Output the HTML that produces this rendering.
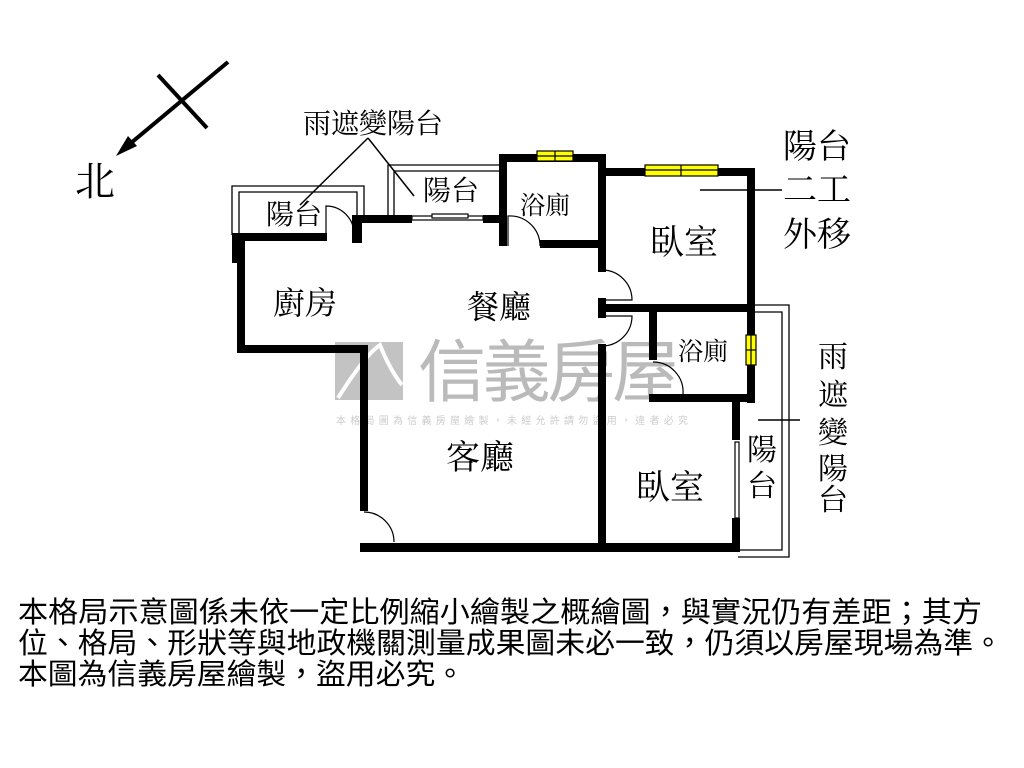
<!DOCTYPE html>
<html><head><meta charset="utf-8"><style>
html,body{margin:0;padding:0;background:#fff;}
svg{display:block}
text{font-family:"Liberation Serif","Noto Serif CJK SC","Noto Sans CJK TC",serif;fill:#000}
</style></head><body>
<svg width="1024" height="768" viewBox="0 0 1024 768" xmlns="http://www.w3.org/2000/svg">
<g opacity="0.5">
<rect x="335" y="342" width="68" height="58" fill="#888"/>
<path d="M338 398 Q365 355 380 345 Q390 370 402 385" stroke="#fff" stroke-width="4" fill="none"/>
<text x="418" y="396" font-size="68" style="fill:#777;font-family:'Noto Sans CJK TC',sans-serif" textLength="262">信義房屋</text>
<text x="336" y="424" font-size="10" style="fill:#999;font-family:'Noto Sans CJK TC',sans-serif" textLength="352">本格局圖為信義房屋繪製，未經允許請勿盜用，違者必究</text>
</g>
<line x1="228" y1="62" x2="125" y2="148" stroke="#000" stroke-width="4"/>
<polygon points="116,156 128,136 137,146" fill="#000"/>
<line x1="158" y1="75" x2="207" y2="128" stroke="#000" stroke-width="4"/>
<text x="75" y="195" font-size="40">北</text>
<g stroke="#000" stroke-width="1.3" fill="none">
<path d="M232 235 V186 H364 V218"/><path d="M239 235 V192 H357 V218"/>
<path d="M388 218 V165 H503"/><path d="M394 218 V171 H503"/>
<path d="M751 305 H789 V557 H738"/><path d="M751 312 H782 V550 H738"/>
</g>
<g stroke="#000" stroke-width="1.5">
<line x1="368" y1="138" x2="300" y2="205"/>
<line x1="368" y1="138" x2="414" y2="196"/>
<line x1="700" y1="190" x2="782" y2="190"/>
<line x1="758" y1="420" x2="800" y2="420"/>
</g>
<g fill="#000">
<rect x="232" y="233" width="12" height="30"/>
<rect x="237" y="233" width="8" height="118"/>
<rect x="237" y="233" width="90" height="8"/>
<rect x="352" y="215" width="10" height="28"/>
<rect x="352" y="215" width="60" height="8"/>
<rect x="483" y="215" width="22" height="8"/>
<rect x="499" y="154" width="8" height="92"/>
<rect x="499" y="154" width="107" height="8"/>
<rect x="598" y="154" width="8" height="118"/>
<rect x="540" y="240" width="66" height="8"/>
<rect x="598" y="168" width="157" height="8"/>
<rect x="747" y="168" width="8" height="235"/>
<rect x="598" y="298" width="8" height="20"/>
<rect x="598" y="304" width="157" height="8"/>
<rect x="649" y="304" width="8" height="56"/>
<rect x="649" y="394" width="106" height="8"/>
<rect x="732" y="394" width="8" height="46"/>
<rect x="732" y="518" width="8" height="34"/>
<rect x="598" y="344" width="8" height="208"/>
<rect x="237" y="345" width="131" height="8"/>
<rect x="360" y="345" width="8" height="166"/>
<rect x="360" y="543" width="380" height="9"/>
</g>
<g fill="#ff0" stroke="#000" stroke-width="1.2">
<rect x="537" y="151" width="36" height="10"/><line x1="555" y1="151" x2="555" y2="161"/><line x1="537" y1="156" x2="573" y2="156"/>
<rect x="645" y="165" width="73" height="11"/><line x1="681" y1="165" x2="681" y2="176"/><line x1="645" y1="170" x2="718" y2="170"/>
<rect x="746" y="335" width="10" height="30"/><line x1="751" y1="335" x2="751" y2="365"/><line x1="746" y1="350" x2="756" y2="350"/>
</g>
<g stroke="#000" stroke-width="1.2" fill="none">
<path d="M326 238 V206 A28 28 0 0 1 354 234"/>
<path d="M508 246 V216 A30 30 0 0 1 540 246"/>
<path d="M602 270 A30 30 0 0 1 632 300 H602"/>
<path d="M602 316 H632 A30 30 0 0 1 602 346"/>
<path d="M653 362 A30 30 0 0 1 683 394"/>
<path d="M364 512 A30 30 0 0 1 394 542"/>
<rect x="412" y="216" width="71" height="4" fill="#fff"/><rect x="432" y="214" width="36" height="4" fill="#fff"/>
<rect x="735" y="442" width="4" height="76"/>
</g>
<text x="303" y="133" font-size="28">雨遮變陽台</text>
<text x="266" y="224" font-size="28">陽台</text>
<text x="423" y="200" font-size="28">陽台</text>
<text x="520" y="214" font-size="25">浴廁</text>
<text x="650" y="254" font-size="34">臥室</text>
<text x="273" y="314" font-size="32">廚房</text>
<text x="467" y="318" font-size="32">餐廳</text>
<text x="678" y="360" font-size="25">浴廁</text>
<text x="446" y="469" font-size="34">客廳</text>
<text x="636" y="499" font-size="34">臥室</text>
<text x="747" y="460" font-size="30">陽</text>
<text x="747" y="496" font-size="30">台</text>
<text x="783" y="158" font-size="34">陽台</text>
<text x="783" y="201" font-size="34">二工</text>
<text x="783" y="246" font-size="34">外移</text>
<text x="818" y="367" font-size="30">雨</text>
<text x="818" y="405" font-size="30">遮</text>
<text x="818" y="443" font-size="30">變</text>
<text x="818" y="479" font-size="30">陽</text>
<text x="818" y="510" font-size="30">台</text>
<text x="18" y="622" font-size="29" textLength="964" lengthAdjust="spacingAndGlyphs" style="font-family:'Noto Sans CJK TC',sans-serif">本格局示意圖係未依一定比例縮小繪製之概繪圖，與實況仍有差距；其方</text>
<text x="18" y="653" font-size="29" textLength="985" lengthAdjust="spacingAndGlyphs" style="font-family:'Noto Sans CJK TC',sans-serif">位、格局、形狀等與地政機關測量成果圖未必一致，仍須以房屋現場為準。</text>
<text x="18" y="684" font-size="29" textLength="447" lengthAdjust="spacingAndGlyphs" style="font-family:'Noto Sans CJK TC',sans-serif">本圖為信義房屋繪製，盜用必究。</text>
</svg>
</body></html>
